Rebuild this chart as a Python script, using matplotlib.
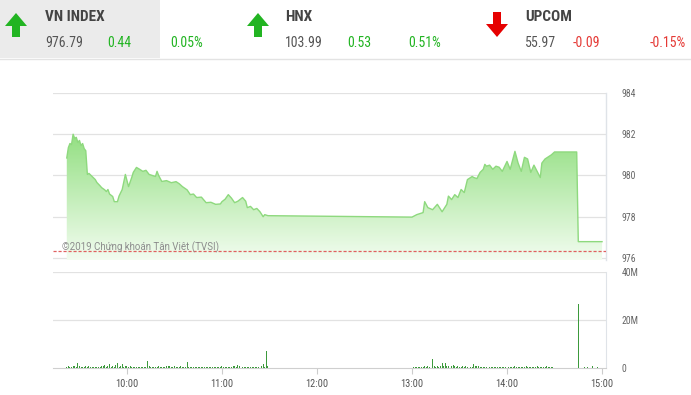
import matplotlib
matplotlib.use("Agg")
import matplotlib.pyplot as plt
from matplotlib.patches import Polygon, Rectangle
from matplotlib import font_manager as fm
import numpy as np

W, H = 691, 395

# ---------------- data ----------------
headers = ["VN INDEX", "HNX", "UPCOM"]
index_values = ["976.79", "103.99", "55.97"]
index_changes = ["0.44", "0.53", "-0.09"]
index_pcts = ["0.05%", "0.51%", "-0.15%"]

price_times = ["9:22", "9:23", "9:24", "9:25", "9:26", "9:27", "9:28", "9:29", "9:30", "9:31",
               "9:32", "9:33", "9:34", "9:35", "9:36", "9:38", "9:40", "9:41", "9:43", "9:44",
               "9:46", "9:47", "9:48", "9:49", "9:51", "9:52", "9:54", "9:55", "9:57", "9:59",
               "10:01", "10:03", "10:04", "10:06", "10:08", "10:10", "10:12", "10:14", "10:16", "10:18",
               "10:19", "10:20", "10:22", "10:25", "10:28", "10:31", "10:33", "10:35", "10:38", "10:40",
               "10:42", "10:44", "10:47", "10:50", "10:53", "10:56", "10:59", "11:00", "11:02", "11:04",
               "11:06", "11:08", "11:10", "11:13", "11:15", "11:16", "11:18", "11:20", "11:22", "11:24",
               "11:26", "11:27", "11:29",
               "13:00", "13:03", "13:07", "13:08", "13:10", "13:13", "13:16", "13:19", "13:22", "13:23",
               "13:25", "13:27", "13:29", "13:31", "13:33", "13:35", "13:38", "13:39", "13:41", "13:43",
               "13:45", "13:46", "13:47", "13:49", "13:51", "13:53", "13:55", "13:57", "14:00", "14:02",
               "14:05", "14:07", "14:09", "14:11", "14:13", "14:15", "14:17", "14:19", "14:21", "14:22",
               "14:24", "14:26", "14:28", "14:30", "14:44", "14:45", "15:00"]
price_values = [980.85, 981.35, 981.55, 981.5, 982.0, 981.8, 981.85, 981.6, 981.7, 981.45,
                981.55, 981.3, 981.2, 980.05, 980.1, 979.95, 979.8, 979.66, 979.5, 979.41,
                979.3, 979.22, 979.32, 979.1, 978.98, 978.73, 978.73, 979.0, 979.32, 980.05,
                979.46, 979.9, 980.15, 980.39, 980.3, 980.2, 980.25, 980.05, 980.0, 979.95,
                980.2, 980.0, 979.71, 979.75, 979.65, 979.7, 979.6, 979.46, 979.3, 979.07,
                979.1, 978.93, 978.95, 978.68, 978.7, 978.6, 978.62, 978.73, 978.85, 979.07,
                978.9, 978.68, 978.75, 978.93, 978.75, 978.44, 978.5, 978.34, 978.4, 978.24,
                978.0, 978.1, 978.05,
                977.98, 978.1, 978.2, 978.73, 978.44, 978.34, 978.6, 978.24, 978.6, 979.0,
                978.83, 979.07, 978.93, 979.32, 979.17, 979.8, 979.95, 979.9, 979.85, 980.15,
                980.3, 980.54, 980.45, 980.5, 980.3, 980.45, 980.4, 980.2, 980.68, 980.3,
                981.17, 980.6, 980.2, 980.88, 980.8, 980.15, 980.5, 980.2, 979.9, 980.6,
                980.8, 980.9, 981.0, 981.14, 981.14, 976.79, 976.79]
reference_value = 976.35

# per-minute volume (millions): morning session from 9:22, afternoon from 13:00
vol_morning_start = "9:22"
vol_morning = [0.5, 0.7, 0.4, 0.6, 0.9, 0.8, 0.6, 2.0, 0.7, 0.5,
               0.6, 0.4, 0.8, 0.5, 0.7, 0.4, 0.6, 0.5, 0.3, 0.6,
               0.5, 0.4, 0.7, 0.9, 1.1, 0.6, 0.8, 1.6, 0.5, 0.7,
               0.4, 1.2, 2.0, 0.6, 0.8, 1.8, 0.5, 0.9, 0.7, 0.6,
               0.8, 0.5, 0.4, 0.6, 0.3, 0.5, 0.4, 0.6, 0.5, 0.4,
               0.6, 3.0, 0.8, 0.5, 0.4, 0.6, 0.3, 0.5, 0.7, 0.4,
               0.5, 0.6, 0.4, 0.9, 0.7, 1.0, 0.5, 0.6, 0.8, 0.4,
               0.6, 0.5, 0.7, 0.4, 0.6, 0.5, 2.6, 0.6, 0.4, 0.5,
               0.3, 0.4, 0.5, 0.3, 0.4, 0.6, 0.3, 0.4, 0.5, 0.3,
               0.4, 0.3, 0.5, 0.4, 0.3, 0.5, 0.4, 0.6, 0.8, 0.4,
               0.5, 0.3, 0.4, 0.6, 0.5, 0.7, 1.0, 0.6, 1.2, 0.8,
               0.4, 0.5, 0.3, 0.6, 0.4, 0.5, 0.3, 0.4, 0.6, 0.5,
               0.4, 0.6, 0.5, 0.7, 1.5, 0.6, 7.0, 0.8]
vol_afternoon_start = "13:00"
vol_afternoon = [0.4, 0.6, 0.5, 0.3, 0.5, 0.4, 0.6, 0.5, 0.7, 0.6,
                 0.8, 0.6, 1.2, 3.9, 0.7, 0.5, 0.8, 0.6, 0.9, 2.0,
                 0.7, 2.1, 0.8, 1.0, 7.0, 0.9, 1.4, 0.8, 0.6, 0.7,
                 0.5, 0.6, 0.8, 0.5, 0.7, 0.6, 0.9, 0.5, 0.6, 1.5,
                 0.8, 1.0, 0.7, 0.6, 0.5, 0.4, 0.6, 0.5, 0.4, 0.6,
                 0.5, 0.4, 0.3, 0.5, 0.4, 0.6, 0.5, 0.4, 0.3, 0.5,
                 0.6, 0.5, 0.4, 0.6, 0.5, 0.7, 0.5, 0.6, 0.4, 0.5,
                 0.6, 0.5, 0.7, 0.4, 0.6, 0.5, 0.4, 0.6, 0.5, 0.7,
                 0.5, 0.6, 0.4, 0.5, 0.6, 0.7, 0.5, 0.4, 0.6, 0.3]
vol_late_times = ["14:45", "14:49", "14:51", "14:54", "14:57"]
vol_late = [26.5, 0.5, 0.6, 0.8, 0.4]

price_ticks = [976, 978, 980, 982, 984]
vol_ticks = [0, 20, 40]
vol_tick_labels = ["0", "20M", "40M"]
time_ticks = ["10:00", "11:00", "12:00", "13:00", "14:00", "15:00"]
watermark = "©2019 Chứng khoán Tân Việt (TVSI)"


def tmin(s):
    h, m = s.split(":")
    return (int(h) - 9) * 60 + int(m)


# ---------------- fonts ----------------
names = {f.name for f in fm.fontManager.ttflist}
cond = None
for cand in ["Roboto Condensed", "Liberation Sans Narrow", "DejaVu Sans Condensed", "Open Sans Condensed"]:
    if cand in names:
        cond = cand
        break
if cond is None:
    cond = "Roboto"
plt.rcParams["font.family"] = [cond, "DejaVu Sans"]

fig = plt.figure(figsize=(W / 100, H / 100), dpi=100)
fig.patch.set_facecolor("white")


def fx(x):
    return x / W


def fy(y):
    return 1 - y / H


# ---------------- header ----------------
fig.patches.append(Rectangle((0, fy(58)), fx(160), 58 / H, transform=fig.transFigure,
                             facecolor="#ebebeb", edgecolor="none", zorder=0))
fig.add_artist(plt.Line2D([0, 1], [fy(58.5), fy(58.5)], transform=fig.transFigure,
                          color="#e3e3e3", lw=1))

green = "#22b422"
red = "#e60000"


def up_arrow(cx, color):
    pts = [(cx - 11, 26), (cx, 13), (cx + 11, 26), (cx + 4, 26), (cx + 4, 37),
           (cx - 4, 37), (cx - 4, 26)]
    fig.patches.append(Polygon([(fx(a), fy(b)) for a, b in pts], closed=True,
                               transform=fig.transFigure, facecolor=color, edgecolor="none"))


def down_arrow(cx, color):
    pts = [(cx - 4, 12), (cx + 4, 12), (cx + 4, 24), (cx + 11, 24), (cx, 37),
           (cx - 11, 24), (cx - 4, 24)]
    fig.patches.append(Polygon([(fx(a), fy(b)) for a, b in pts], closed=True,
                               transform=fig.transFigure, facecolor=color, edgecolor="none"))


up_arrow(16, green)
up_arrow(258, green)
down_arrow(497, red)

title_x = [45, 285, 525]
chg_x = [107, 347, 573]
pct_x = [170, 408, 650]
chg_cols = [green, green, "#e53935"]
for i in range(3):
    fig.text(fx(title_x[i]), fy(17), headers[i], fontsize=11, fontweight="bold",
             color="#444444", va="center", ha="left")
    fig.text(fx(title_x[i]), fy(43), index_values[i], fontsize=10, color="#555555",
             va="center", ha="left")
    fig.text(fx(chg_x[i]), fy(43), index_changes[i], fontsize=10, color=chg_cols[i],
             va="center", ha="left")
    fig.text(fx(pct_x[i]), fy(43), index_pcts[i], fontsize=10, color=chg_cols[i],
             va="center", ha="left")

# ---------------- price chart ----------------
xl = (13.3, 362.5)
ax = fig.add_axes([fx(53), fy(260), fx(606) - fx(53), (260 - 93) / H])
ax.set_xlim(*xl)
ax.set_ylim(975.9, 984.0)
pt = np.array([tmin(s) for s in price_times], dtype=float)
pv = np.array(price_values)

ybot = 975.9
poly = Polygon(np.column_stack([np.r_[pt[0], pt, pt[-1]], np.r_[ybot, pv, ybot]]),
               closed=True, facecolor="none", edgecolor="none")
ax.add_patch(poly)
top_c = np.array([0.56, 0.87, 0.49])
bot_c = np.array([0.95, 0.99, 0.94])
g = np.linspace(0, 1, 256)[:, None]
img = top_c[None, :] * (1 - g[..., None]) + bot_c[None, :] * g[..., None]
img = np.repeat(img, 2, axis=1)
im = ax.imshow(img, extent=[xl[0], xl[1], ybot, 982.3], aspect="auto", origin="upper",
               zorder=1, interpolation="bilinear")
im.set_clip_path(poly)
ax.plot(pt, pv, color="#8ed97e", lw=1.0, zorder=3)
ax.axhline(reference_value, color="#e06060", lw=0.9, ls=(0, (2.5, 1.5)), zorder=4)

for v in price_ticks:
    ax.axhline(v, color="#e2e2e2", lw=0.9, zorder=0)
ax.set_yticks(price_ticks)
ax.set_yticklabels([str(v) for v in price_ticks])
ax.yaxis.tick_right()
ax.tick_params(axis="y", length=0, pad=11, labelsize=7, labelcolor="#666666")
ax.tick_params(axis="x", length=0, labelbottom=False)
for s in ["top", "left", "bottom"]:
    ax.spines[s].set_visible(False)
ax.spines["right"].set_color("#dfe3e8")
ax.spines["right"].set_linewidth(1)
ax.set_facecolor("none")
ax.text(19, 976.5, watermark, fontsize=7, color="#8c8c8c", family=["Roboto", "DejaVu Sans"],
        va="center", ha="left", zorder=5)

# ---------------- volume chart ----------------
axv = fig.add_axes([fx(53), fy(368), fx(606) - fx(53), (368 - 272) / H])
axv.set_xlim(*xl)
axv.set_ylim(0, 40)
vt = np.r_[tmin(vol_morning_start) + np.arange(len(vol_morning)),
           tmin(vol_afternoon_start) + np.arange(len(vol_afternoon)),
           [tmin(s) for s in vol_late_times]]
vv = np.r_[vol_morning, vol_afternoon, vol_late]
axv.bar(vt, vv, width=0.6, color="#3c9a3c", edgecolor="none", zorder=3)
for v in vol_ticks[1:]:
    axv.axhline(v, color="#e2e2e2", lw=0.9, zorder=0)
axv.set_yticks(vol_ticks)
axv.set_yticklabels(vol_tick_labels)
axv.yaxis.tick_right()
axv.tick_params(axis="y", length=0, pad=11, labelsize=7, labelcolor="#666666")
axv.set_xticks([tmin(s) for s in time_ticks])
axv.set_xticklabels(time_ticks)
axv.tick_params(axis="x", length=4, width=0.8, color="#cccccc", pad=4, labelsize=7.5,
                labelcolor="#555555")
for s in ["top", "left"]:
    axv.spines[s].set_visible(False)
axv.spines["right"].set_color("#dfe3e8")
axv.spines["bottom"].set_color("#cfcfcf")
axv.set_facecolor("none")

fig.savefig("out.png", dpi=100)
